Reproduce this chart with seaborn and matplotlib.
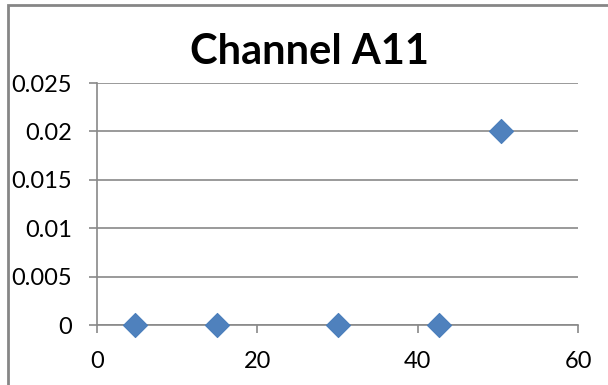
import matplotlib
matplotlib.use("Agg")
import matplotlib.pyplot as plt
import matplotlib.patches as mpatches
import seaborn as sns
import pandas as pd

# Channel A11 readings
x_values = [4.7, 15.0, 30.0, 42.6, 50.4]
y_values = [0.0, 0.0, 0.0, 0.0, 0.02]
x_ticks = [0, 20, 40, 60]
y_ticks = [0, 0.005, 0.01, 0.015, 0.02, 0.025]
y_tick_labels = ["0", "0.005", "0.01", "0.015", "0.02", "0.025"]
title_text = "Channel A11"

df = pd.DataFrame({"x": x_values, "y": y_values})

sns.set_theme(style="white")
plt.rcParams["font.family"] = ["Lato", "DejaVu Sans"]

grey = "#898989"
fig = plt.figure(figsize=(6.08, 3.85), dpi=100)
ax = fig.add_axes([97 / 608, 60 / 385, 481 / 608, 242 / 385])

sns.scatterplot(data=df, x="x", y="y", marker="D", s=150, color="#4F81BD",
                edgecolor="#4A7EBB", linewidth=0.8, ax=ax, zorder=3, clip_on=False)

ax.set_xlim(0, 60)
ax.set_ylim(0, 0.025)
ax.set_xticks(x_ticks)
ax.set_xticklabels([str(t) for t in x_ticks])
ax.set_yticks(y_ticks)
ax.set_yticklabels(y_tick_labels)
ax.set_xlabel("")
ax.set_ylabel("")

ax.yaxis.grid(True, color=grey, linewidth=1.2)
ax.xaxis.grid(False)
for side in ("top", "right"):
    ax.spines[side].set_visible(False)
for side in ("left", "bottom"):
    ax.spines[side].set_color(grey)
    ax.spines[side].set_linewidth(1.2)

ax.tick_params(axis="y", direction="out", length=6, width=1.2, color=grey,
               pad=12, labelsize=17, labelcolor="#000000", left=True)
ax.tick_params(axis="x", direction="out", length=6, width=1.2, color=grey,
               pad=13, labelsize=17, labelcolor="#000000", bottom=True)

fig.text(309 / 608, 1 - 52 / 385, title_text, ha="center", va="center",
         fontsize=30, fontweight="bold", color="#000000")

# chart frame
frame = mpatches.Rectangle((8 / 608, -0.1), 1.2, 1 - 5 / 385 + 0.1,
                           transform=fig.transFigure, fill=False,
                           edgecolor="#868686", linewidth=2)
fig.patches.append(frame)

fig.savefig("out.png", dpi=100, facecolor="white")
